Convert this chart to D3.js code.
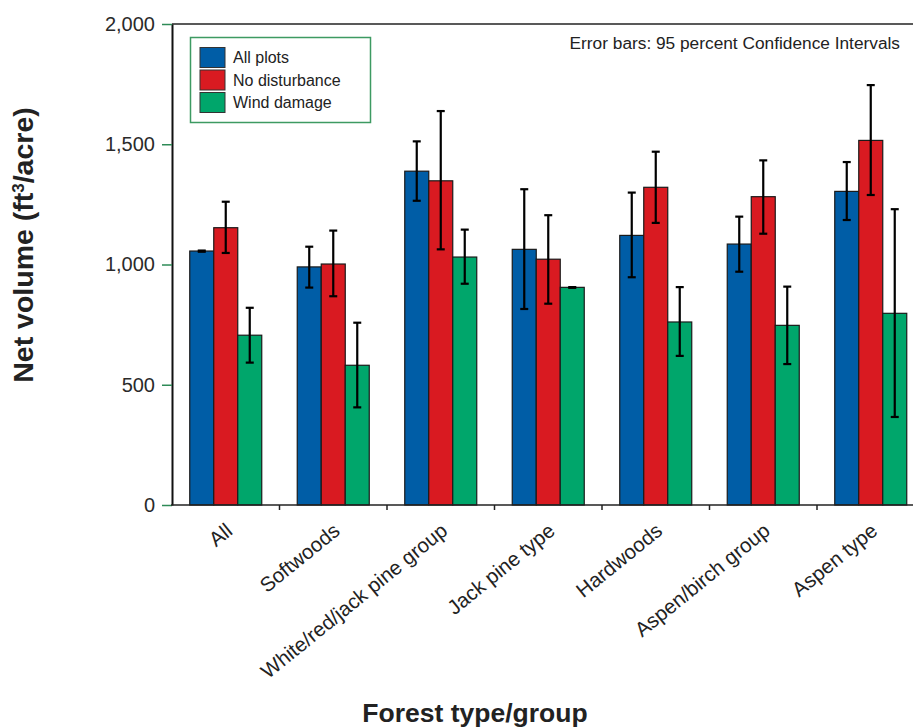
<!DOCTYPE html>
<html>
<head>
<meta charset="utf-8">
<script src="https://cdn.jsdelivr.net/npm/d3@7"></script>
<style>
  body{margin:0;background:#fff;}
  svg{display:block;font-family:Arial,"Liberation Sans",Helvetica,sans-serif;}
</style>
</head>
<body>
<script>
var categories=['All','Softwoods','White/red/jack pine group','Jack pine type','Hardwoods','Aspen/birch group','Aspen type'];
var seriesNames=['All plots','No disturbance','Wind damage'];
var seriesColors=['#005da6','#d91a21','#00a66b'];

// bar values and 95% CI bounds
var allPlots=[1056,990,1388,1063,1121,1085,1304];
var allPlotsLow=[1053,904,1265,815,947,970,1185];
var allPlotsHigh=[1058,1074,1512,1313,1299,1199,1426];

var noDisturbance=[1153,1002,1348,1022,1321,1282,1516];
var noDisturbanceLow=[1048,868,1063,837,1173,1128,1289];
var noDisturbanceHigh=[1261,1141,1638,1205,1469,1433,1746];

var windDamage=[706,581,1031,905,761,747,797];
var windDamageLow=[592,406,920,903,620,586,366];
var windDamageHigh=[820,758,1145,906,906,908,1230];

var yTicks=[0,500,1000,1500,2000];

var width=913;
var height=728;

var svg=d3.select('body')
.append('svg')
.attr('width',width)
.attr('height',height);

var x0=d3.scaleBand()
.domain(categories)
.range([172,924.5])
.padding(0);

var x1=d3.scaleBand()
.domain(seriesNames)
.range([0,72]);

var groupOffset=(x0.bandwidth()-72)/2;

var y=d3.scaleLinear()
.domain([0,2000])
.range([505,24]);

var values=[allPlots,noDisturbance,windDamage];
var lows=[allPlotsLow,noDisturbanceLow,windDamageLow];
var highs=[allPlotsHigh,noDisturbanceHigh,windDamageHigh];

var rows=[];
categories.forEach(function(c,i){
    seriesNames.forEach(function(s,j){
        rows.push({cat:c,series:s,color:seriesColors[j],value:values[j][i],low:lows[j][i],high:highs[j][i]});
    });
});

// top frame line
svg.append('line')
.attr('x1',172).attr('x2',width)
.attr('y1',y(2000)).attr('y2',y(2000))
.style('stroke','#222')
.style('stroke-width',1.5);

//bars
svg.append('g')
.selectAll('rect')
.data(rows)
.enter()
.append('rect')
.attr('x',(d)=>x0(d.cat)+groupOffset+x1(d.series))
.attr('y',(d)=>y(d.value))
.attr('width',x1.bandwidth())
.attr('height',(d)=>y(0)-y(d.value))
.style('fill',(d)=>d.color)
.style('stroke','#1a1a1a')
.style('stroke-width',1.2);

//error bars
var errG=svg.append('g')
.selectAll('g')
.data(rows)
.enter()
.append('g')
.attr('transform',(d)=>'translate('+(x0(d.cat)+groupOffset+x1(d.series)+x1.bandwidth()/2)+',0)');
errG.append('line')
.attr('y1',(d)=>y(d.low))
.attr('y2',(d)=>y(d.high))
.style('stroke','#000')
.style('stroke-width',2.2);
errG.append('line')
.attr('x1',-4).attr('x2',4)
.attr('y1',(d)=>y(d.high)).attr('y2',(d)=>y(d.high))
.style('stroke','#000')
.style('stroke-width',2.2);
errG.append('line')
.attr('x1',-4).attr('x2',4)
.attr('y1',(d)=>y(d.low)).attr('y2',(d)=>y(d.low))
.style('stroke','#000')
.style('stroke-width',2.2);

//y axis
var yAxis=svg.append('g')
.attr('transform','translate(172,0)')
.call(d3.axisLeft(y).tickValues(yTicks).tickFormat(d3.format(',')).tickSize(10).tickSizeOuter(0).tickPadding(7));
yAxis.select('.domain').style('stroke','#111').style('stroke-width',2);
yAxis.selectAll('.tick line').style('stroke','#2e8b57').style('stroke-width',1.5);
yAxis.selectAll('.tick text')
.style('font-size','20px')
.style('fill','#2a2a2a')
.style('font-family','Arial,"Liberation Sans",sans-serif');

//x axis
svg.append('line')
.attr('x1',171).attr('x2',width)
.attr('y1',y(0)).attr('y2',y(0))
.style('stroke','#222')
.style('stroke-width',1.5);

svg.append('g')
.selectAll('line')
.data(categories.slice(0,categories.length-1))
.enter()
.append('line')
.attr('x1',(d)=>x0(d)+x0.bandwidth())
.attr('x2',(d)=>x0(d)+x0.bandwidth())
.attr('y1',y(0))
.attr('y2',y(0)+5)
.style('stroke','#222')
.style('stroke-width',1.5);

svg.append('g')
.selectAll('text')
.data(categories)
.enter()
.append('text')
.attr('transform',(d)=>'translate('+(x0(d)+x0.bandwidth()/2-1)+','+(y(0)+17)+') rotate(-39)')
.attr('text-anchor','end')
.attr('dy','0.7em')
.style('font-size','20.5px')
.style('fill','#222')
.text((d)=>d);

//axis titles
svg.append('text')
.attr('transform','translate(33,245) rotate(-90)')
.attr('text-anchor','middle')
.style('font-size','28.5px')
.style('font-weight','bold')
.style('fill','#222')
.html('Net volume (ft<tspan baseline-shift="super" font-size="17px">3</tspan>/acre)');

svg.append('text')
.attr('x',475)
.attr('y',722)
.attr('text-anchor','middle')
.style('font-size','26.5px')
.style('font-weight','bold')
.style('fill','#222')
.text('Forest type/group');

//note
svg.append('text')
.attr('x',900)
.attr('y',49)
.attr('text-anchor','end')
.style('font-size','17.3px')
.style('fill','#222')
.text('Error bars: 95 percent Confidence Intervals');

//legend
var legend=svg.append('g');
legend.append('rect')
.attr('x',190.5).attr('y',37.5)
.attr('width',180).attr('height',85)
.style('fill','#fff')
.style('stroke','#3d9a62')
.style('stroke-width',1.5);
var legendItems=legend.selectAll('g')
.data(seriesNames)
.enter()
.append('g')
.attr('transform',(d,i)=>'translate(200,'+(47.5+i*22.5)+')');
legendItems.append('rect')
.attr('width',25)
.attr('height',20)
.style('fill',(d,i)=>seriesColors[i])
.style('stroke','#333')
.style('stroke-width',1);
legendItems.append('text')
.attr('x',33)
.attr('y',15.5)
.style('font-size','16px')
.style('fill','#222')
.text((d)=>d);
</script>
</body>
</html>
